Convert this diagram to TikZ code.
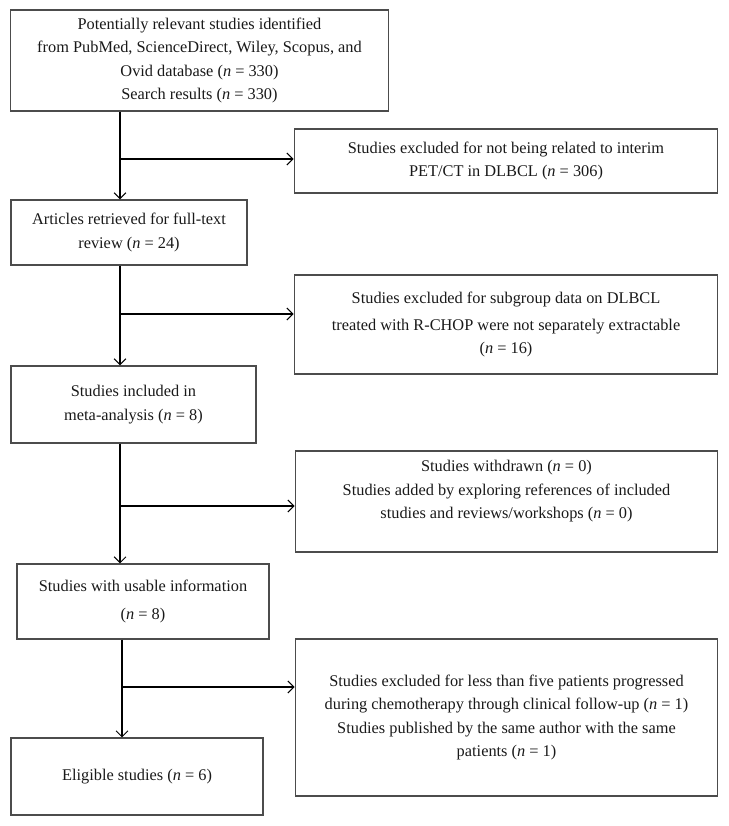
\documentclass[tikz,border=0pt]{standalone}
\usepackage{fontspec}
\setmainfont{Liberation Serif}
\usetikzlibrary{arrows.meta}

\begin{document}
\begin{tikzpicture}[x=0.02cm, y=-0.02cm,
                stepbox/.style={
                  draw=black!70, line width=0.6pt, inner sep=0pt, align=center,
                  font=\fontsize{9.3}{13.4}\selectfont, text=black!90
                },
                flow/.style={
                  line width=0.6pt, -{Straight Barb[length=3.4pt,width=6.8pt]}
                }
              ]
              \useasboundingbox (0,0) rectangle (729,826);
              % main column
              \node [stepbox, minimum width=7.58cm, minimum height=2.02cm] at (199.5, 60.5) (b1)
                {Potentially relevant studies identified\\
                 from PubMed, ScienceDirect, Wiley, Scopus, and\\
                 Ovid database (\textit{n} = 330)\\
                 Search results (\textit{n} = 330)};
              \node [stepbox, minimum width=4.72cm, minimum height=1.30cm] at (129, 232.5) (b2)
                {Articles retrieved for full-text\\ review (\textit{n} = 24)};
              \node [stepbox, minimum width=4.90cm, minimum height=1.54cm] at (133.5, 404.5) (b3)
                {Studies included in\\ meta-analysis (\textit{n} = 8)};
              \node [stepbox, minimum width=5.04cm, minimum height=1.50cm] at (143, 601.5) (b4)
                {Studies with usable information\\[2pt] (\textit{n} = 8)};
              \node [stepbox, minimum width=5.04cm, minimum height=1.54cm] at (137, 776.5) (b5)
                {Eligible studies (\textit{n} = 6)};
              % excluded boxes
              \node [stepbox, minimum width=8.48cm, minimum height=1.28cm] at (506, 161) (e1)
                {Studies excluded for not being related to interim\\
                 PET/CT in DLBCL (\textit{n} = 306)};
              \node [stepbox, minimum width=8.48cm, minimum height=1.98cm] at (506, 324.5) (e2)
                {Studies excluded for subgroup data on DLBCL\\[2pt]
                 treated with R-CHOP were not separately extractable\\
                 (\textit{n} = 16)};
              \node [stepbox, minimum width=8.46cm, minimum height=2.02cm] at (506.5, 501.5) (e3)
                {Studies withdrawn (\textit{n} = 0)\\
                 Studies added by exploring references of included\\
                 studies and reviews/workshops (\textit{n} = 0)\\ \mbox{}};
              \node [stepbox, minimum width=8.46cm, minimum height=3.14cm] at (506.5, 717.5) (e4)
                {Studies excluded for less than five patients progressed\\
                 during chemotherapy through clinical follow-up (\textit{n} = 1)\\
                 Studies published by the same author with the same\\
                 patients (\textit{n} = 1)};
              % branch points
              \coordinate (s1) at (120, 159);
              \coordinate (s2) at (120, 314);
              \coordinate (s3) at (120, 506);
              \coordinate (s4) at (122, 687);
              \draw [flow] (b1.south -| s1) -- (b2.north -| s1);
              \draw [flow] (b2.south -| s2) -- (b3.north -| s2);
              \draw [flow] (b3.south -| s3) -- (b4.north -| s3);
              \draw [flow] (b4.south -| s4) -- (b5.north -| s4);
              \draw [flow] (s1) -- (s1 -| e1.west);
              \draw [flow] (s2) -- (s2 -| e2.west);
              \draw [flow] (s3) -- (s3 -| e3.west);
              \draw [flow] (s4) -- (s4 -| e4.west);
            \end{tikzpicture}
\end{document}
